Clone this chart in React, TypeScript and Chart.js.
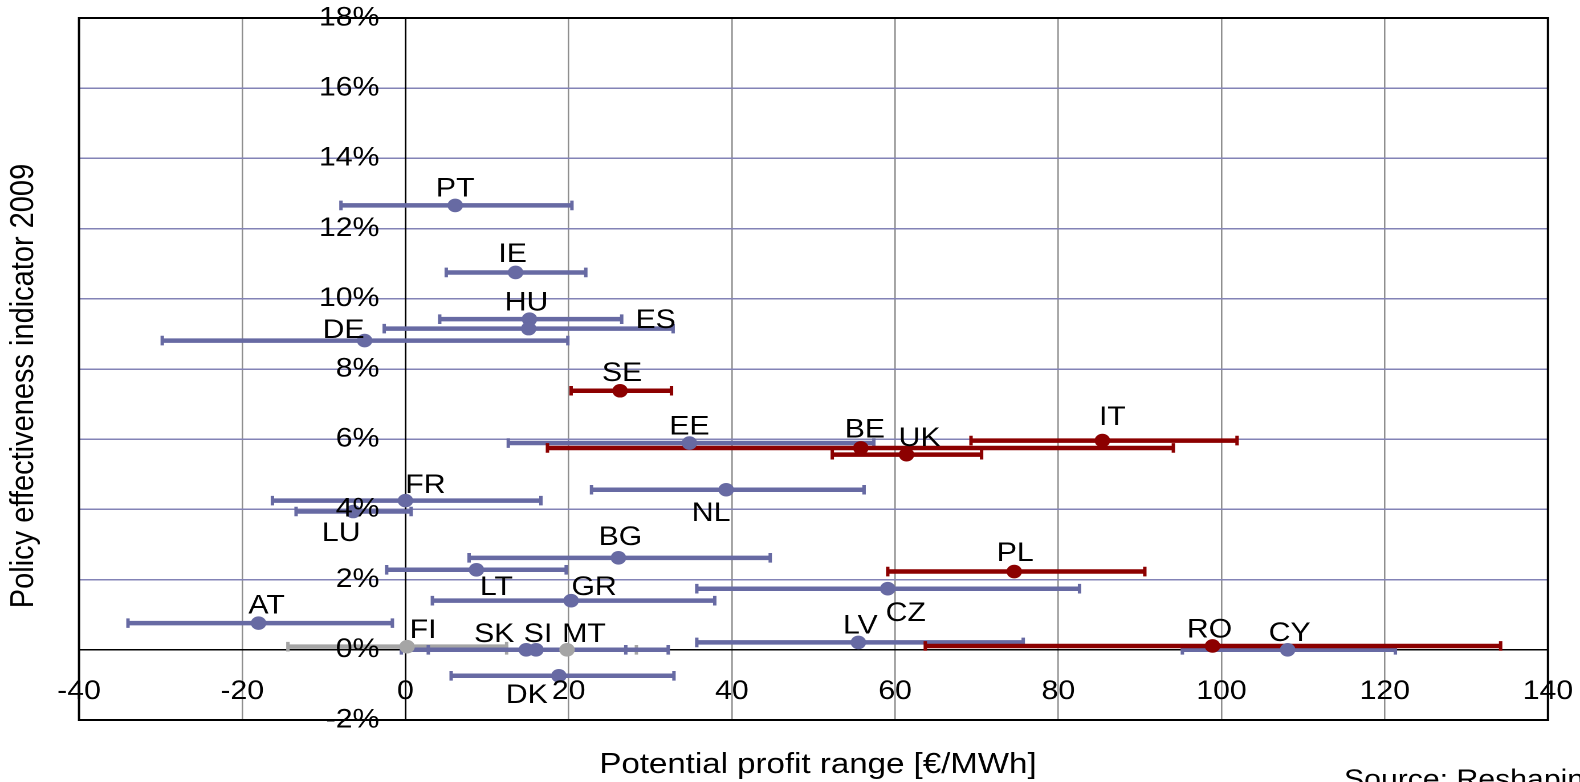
import React, { useEffect, useRef } from 'react';
import { Chart, registerables, LinearScale } from 'chart.js';

// ---------- data ----------
const countries = ['PT', 'IE', 'HU', 'ES', 'DE', 'SE', 'EE', 'BE', 'UK', 'IT', 'NL', 'FR', 'LU', 'BG', 'LT', 'PL', 'CZ', 'GR', 'AT', 'LV', 'RO', 'CY', 'FI', 'SK', 'SI', 'MT', 'DK'];
const profitMid = [6.1, 13.5, 15.2, 15.1, -5.0, 26.3, 34.8, 55.8, 61.4, 85.4, 39.3, 0.0, -6.4, 26.1, 8.7, 74.6, 59.1, 20.3, -18.0, 55.5, 98.9, 108.1, 0.2, 14.8, 16.0, 19.8, 18.8];
const profitLow = [-7.9, 5.0, 4.2, -2.6, -29.8, 20.3, 12.6, 17.4, 52.3, 69.3, 22.8, -16.3, -13.4, 7.8, -2.3, 59.1, 35.7, 3.3, -34.0, 35.7, 63.7, 95.2, -14.4, -0.5, 2.8, 12.4, 5.6];
const profitHigh = [20.4, 22.1, 26.5, 32.8, 19.9, 32.6, 57.4, 94.1, 70.6, 101.9, 56.2, 16.6, 0.7, 44.7, 19.7, 90.6, 82.6, 37.9, -1.6, 75.7, 134.2, 121.3, 12.4, 27.0, 32.2, 28.3, 32.9];
const effectiveness = [12.66, 10.75, 9.42, 9.15, 8.81, 7.38, 5.89, 5.75, 5.56, 5.96, 4.56, 4.25, 3.94, 2.62, 2.28, 2.23, 1.74, 1.40, 0.76, 0.21, 0.11, 0.0, 0.09, 0.0, 0.0, 0.0, -0.74];
const groups = ['blue', 'blue', 'blue', 'blue', 'blue', 'red', 'blue', 'red', 'red', 'red', 'blue', 'blue', 'blue', 'blue', 'blue', 'red', 'blue', 'blue', 'blue', 'blue', 'red', 'blue', 'gray', 'blue', 'blue', 'gray', 'blue'];

const xTitle = 'Potential profit range [€/MWh]';
const yTitle = 'Policy effectiveness indicator 2009';
const sourceText = 'Source: Reshaping';

// ---------- style / layout (not data) ----------
const VIEW_W = 1580;
const VIEW_H = 782;
const STRETCH = 1.14; // reference is horizontally stretched
const CANVAS_W = Math.round(VIEW_W / STRETCH);
const FONT = '"Liberation Sans", Arial, Helvetica, sans-serif';
const Y_LABEL_GAP = 26 / STRETCH;

const groupColor: Record<string, string> = { blue: '#676aa3', red: '#8c0000', gray: '#a5a5a5' };
const groupOrder = ['gray', 'blue', 'red'];

// label offsets in screen pixels relative to the marker centre
const labelOffset: Record<string, [number, number]> = {
  PT: [0, -16], IE: [-3, -18], HU: [-3, -16], ES: [127, -8], DE: [-21, -10], SE: [2, -17],
  EE: [0, -16], BE: [4, -18], UK: [13, -16], IT: [10, -23], NL: [-15, 24], FR: [20, -15],
  LU: [-12, 22], BG: [2, -20], LT: [20, 18], PL: [1, -18], CZ: [18, 25], GR: [23, -13],
  AT: [8, -17], LV: [2, -16], RO: [-3, -16], CY: [2, -16], FI: [16, -16], SK: [-32, -15],
  SI: [2, -15], MT: [17, -15], DK: [-32, 20],
};

// linear scale whose value-positioned tick labels keep a gap from the axis line
class GapLinearScale extends (LinearScale as any) {
  static id = 'gapLinear';
  static defaults = (LinearScale as any).defaults;
  _computeLabelItems(chartArea: any) {
    const items = super._computeLabelItems(chartArea);
    if ((this as any).axis === 'y') {
      items.forEach((it: any) => {
        const t = it.options.translation;
        it.options.translation = [t[0] - Y_LABEL_GAP, t[1]];
      });
    }
    return items;
  }
}

Chart.register(...registerables, GapLinearScale as any);

const zeroPadding = (s: any) => {
  s.paddingLeft = 0;
  s.paddingRight = 0;
  s.paddingTop = 0;
  s.paddingBottom = 0;
};

const overlay = {
  id: 'overlay',
  beforeDatasetsDraw(chart: any) {
    const { ctx, chartArea: a, scales } = chart;
    const xs = scales.x;
    const ys = scales.y;
    ctx.save();
    ctx.strokeStyle = '#000';
    ctx.lineWidth = 2;
    ctx.strokeRect(a.left, a.top, a.right - a.left, a.bottom - a.top);
    groupOrder.forEach((g) => {
      countries.forEach((c, i) => {
        if (groups[i] !== g) return;
        const x1 = xs.getPixelForValue(profitLow[i]);
        const x2 = xs.getPixelForValue(profitHigh[i]);
        const y = ys.getPixelForValue(effectiveness[i]);
        ctx.strokeStyle = groupColor[g];
        ctx.lineWidth = 4.5;
        ctx.lineCap = 'butt';
        ctx.beginPath();
        ctx.moveTo(x1, y);
        ctx.lineTo(x2, y);
        ctx.stroke();
        ctx.lineWidth = 3;
        ctx.beginPath();
        ctx.moveTo(x1, y - 4.8);
        ctx.lineTo(x1, y + 4.8);
        ctx.moveTo(x2, y - 4.8);
        ctx.lineTo(x2, y + 4.8);
        ctx.stroke();
      });
    });
    ctx.restore();
  },
  afterDatasetsDraw(chart: any) {
    const { ctx, scales } = chart;
    const xs = scales.x;
    const ys = scales.y;
    ctx.save();
    ctx.fillStyle = '#000';
    ctx.font = `26.5px ${FONT}`;
    ctx.textAlign = 'center';
    ctx.textBaseline = 'middle';
    countries.forEach((c, i) => {
      const off = labelOffset[c] || [0, -18];
      const x = xs.getPixelForValue(profitMid[i]) + off[0] / STRETCH;
      const y = ys.getPixelForValue(effectiveness[i]) + off[1];
      ctx.fillText(c, x, y);
    });
    ctx.restore();
  },
  afterDraw(chart: any) {
    const { ctx } = chart;
    ctx.save();
    ctx.fillStyle = '#000';
    ctx.font = `29px ${FONT}`;
    ctx.textAlign = 'center';
    ctx.textBaseline = 'middle';
    ctx.fillText(xTitle, 818 / STRETCH, 765);
    ctx.save();
    ctx.translate(24 / STRETCH, 386);
    ctx.rotate(-Math.PI / 2);
    ctx.fillText(yTitle, 0, 0);
    ctx.restore();
    ctx.font = `26.5px ${FONT}`;
    ctx.textAlign = 'left';
    ctx.textBaseline = 'alphabetic';
    ctx.fillText(sourceText, 1344 / STRETCH, 788);
    ctx.restore();
  },
};

export default function App() {
  const ref = useRef<HTMLCanvasElement>(null);
  useEffect(() => {
    if (!ref.current) return;
    const datasets = groupOrder.map((g) => ({
      label: g,
      data: countries
        .map((c, i) => (groups[i] === g ? { x: profitMid[i], y: effectiveness[i] } : null))
        .filter((p) => p !== null),
      backgroundColor: groupColor[g],
      borderColor: groupColor[g],
      pointRadius: 6.8,
      pointHoverRadius: 6.8,
      borderWidth: 0,
      showLine: false,
    }));
    const chart = new Chart(ref.current, {
      type: 'scatter',
      data: { datasets: datasets as any },
      options: {
        responsive: false,
        animation: false,
        devicePixelRatio: 2,
        events: [],
        layout: {
          padding: {
            left: 79 / STRETCH,
            top: 18,
            right: CANVAS_W - 1548 / STRETCH,
            bottom: VIEW_H - 720,
          },
        },
        plugins: { legend: { display: false }, tooltip: { enabled: false } },
        scales: {
          x: {
            type: 'linear',
            position: { y: 0 } as any,
            min: -40,
            max: 140,
            afterFit: (s: any) => { s.height = 0; zeroPadding(s); },
            ticks: {
              stepSize: 20,
              autoSkip: false,
              maxRotation: 0,
              color: '#000',
              padding: 26,
              z: 1,
              font: { family: FONT, size: 26.5 },
            },
            grid: {
              drawTicks: false,
              lineWidth: 1.3,
              color: (c: any) => (c.tick && c.tick.value === 0 ? '#000' : '#8f8f8f'),
            },
            border: { display: true, color: '#000', width: 1.5 },
          },
          y: {
            type: 'gapLinear' as any,
            position: { x: 0 } as any,
            min: -2,
            max: 18,
            afterFit: (s: any) => { s.width = 0; zeroPadding(s); },
            ticks: {
              stepSize: 2,
              autoSkip: false,
              color: '#000',
              padding: 0,
              z: 1,
              font: { family: FONT, size: 26.5 },
              callback: (v: any) => `${v}%`,
            },
            grid: {
              drawTicks: false,
              lineWidth: 1.5,
              color: (c: any) => (c.tick && c.tick.value === 0 ? '#000' : '#8383b6'),
            },
            border: { display: true, color: '#000', width: 1.5 },
          },
        },
      } as any,
      plugins: [overlay],
    });
    return () => chart.destroy();
  }, []);
  return (
    <div style={{ position: 'fixed', left: 0, top: 0, width: VIEW_W, height: VIEW_H, background: '#fff', overflow: 'hidden' }}>
      <canvas
        ref={ref}
        width={CANVAS_W}
        height={VIEW_H}
        style={{ width: `${VIEW_W}px`, height: `${VIEW_H}px`, display: 'block' }}
      />
    </div>
  );
}
